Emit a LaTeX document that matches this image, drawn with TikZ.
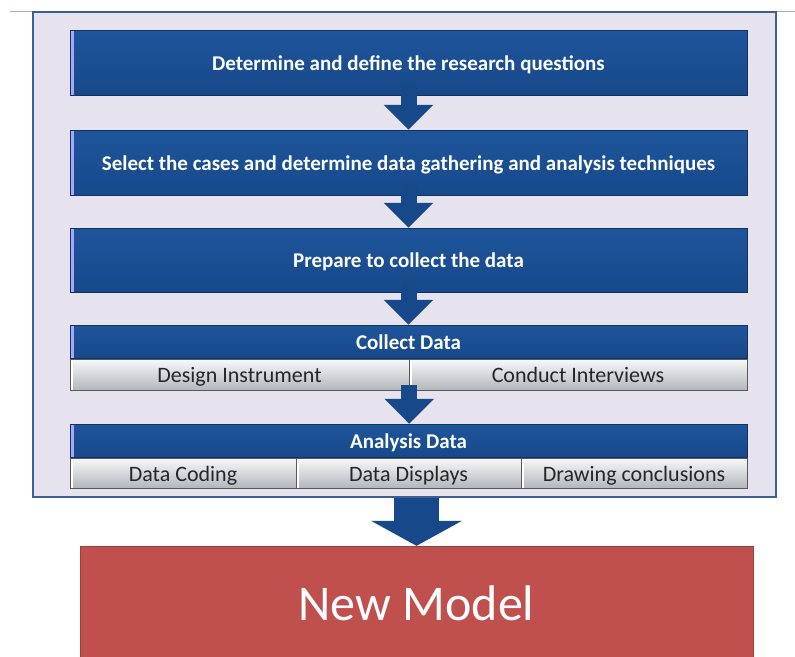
\documentclass[tikz,border=0pt]{standalone}
\usepackage{fontspec}
\setmainfont{Carlito}
\usetikzlibrary{arrows.meta}

\definecolor{stepblue}{HTML}{17498A}
\definecolor{stepbluetop}{HTML}{1E559B}
\definecolor{framefill}{HTML}{E6E2EE}
\definecolor{frameline}{HTML}{3B5F96}
\definecolor{subgray}{HTML}{D2D6DC}
\definecolor{modelred}{HTML}{C0504D}

\tikzset{
  bluebox/.style={draw=stepblue!70!black, top color=stepbluetop, bottom color=stepblue,
    minimum width=677pt, text=white, inner sep=0pt, text height=17pt, text depth=2pt,
    font=\bfseries\fontsize{21}{24}\selectfont,
    path picture={\fill[blue!35!white] (path picture bounding box.north west)
      rectangle ([xshift=4pt]path picture bounding box.south west);}},
  subbox/.style={draw=black!65, top color=white!85!subgray, bottom color=subgray!85!black,
    minimum height=31pt, inner sep=0pt, text=black!85, text height=18pt, text depth=2pt,
    font=\fontsize{22}{24}\selectfont,
    path picture={\fill[white] (path picture bounding box.north west)
      rectangle ([xshift=3pt]path picture bounding box.south west);}},
  downarrow/.style={color=stepblue, line width=16pt,
    -{Triangle[width=48pt,length=25pt]}},
}

\begin{document}
\begin{tikzpicture}[x=1pt,y=-1pt]
\useasboundingbox (0,0) rectangle (795,656);
\fill[white] (0,0) rectangle (795,656);
\draw[frameline!50] (10,11) -- (795,11);

\node[draw=frameline, line width=1.5pt, fill=framefill, minimum width=743pt, minimum height=485pt] (Frame) at (404.5,254.5) {};

\node[bluebox, minimum height=65pt] (Questions) at (408.5,62.5) {Determine and define the research questions};
\node[bluebox, minimum height=65pt] (Cases) at (408.5,162.5) {Select the cases and determine data gathering and analysis techniques};
\node[bluebox, minimum height=64pt] (Prepare) at (408.5,260) {Prepare to collect the data};

\node[bluebox, minimum height=33pt] (Collect) at (408.5,341.5) {Collect Data};
\node[subbox, minimum width=339pt] (Design) at (239.5,374.5) {Design Instrument};
\node[subbox, minimum width=338pt] (Interviews) at (578,374.5) {Conduct Interviews};

\node[bluebox, minimum height=33pt] (Analysis) at (408.5,440.5) {Analysis Data};
\node[subbox, minimum width=226pt, minimum height=30pt] (Coding) at (183,473) {Data Coding};
\node[subbox, minimum width=225pt, minimum height=30pt] (Displays) at (408.5,473) {Data Displays};
\node[subbox, minimum width=226pt, minimum height=30pt] (Conclusions) at (634,473) {Drawing conclusions};

\node[draw=modelred!80!black, fill=modelred, minimum width=673pt, minimum height=114pt,
  text=white, font=\fontsize{50}{56}\selectfont] (Model) at (416.5,603) {New Model};

% arrows between the steps
\draw[downarrow, shorten <=-11pt] (Questions) -- (Cases);
\draw[downarrow, shorten <=-11pt] (Cases) -- (Prepare);
\draw[downarrow, shorten <=-11pt] (Prepare) -- (Collect);
\draw[downarrow, shorten <=-5pt] (Design.south east) -- (Analysis.north -| Design.south east);

\draw[color=stepblue, line width=45pt, -{Triangle[width=90pt,length=25pt]}]
  (Frame.south -| Model.north) -- (Model.north);
\end{tikzpicture}
\end{document}
